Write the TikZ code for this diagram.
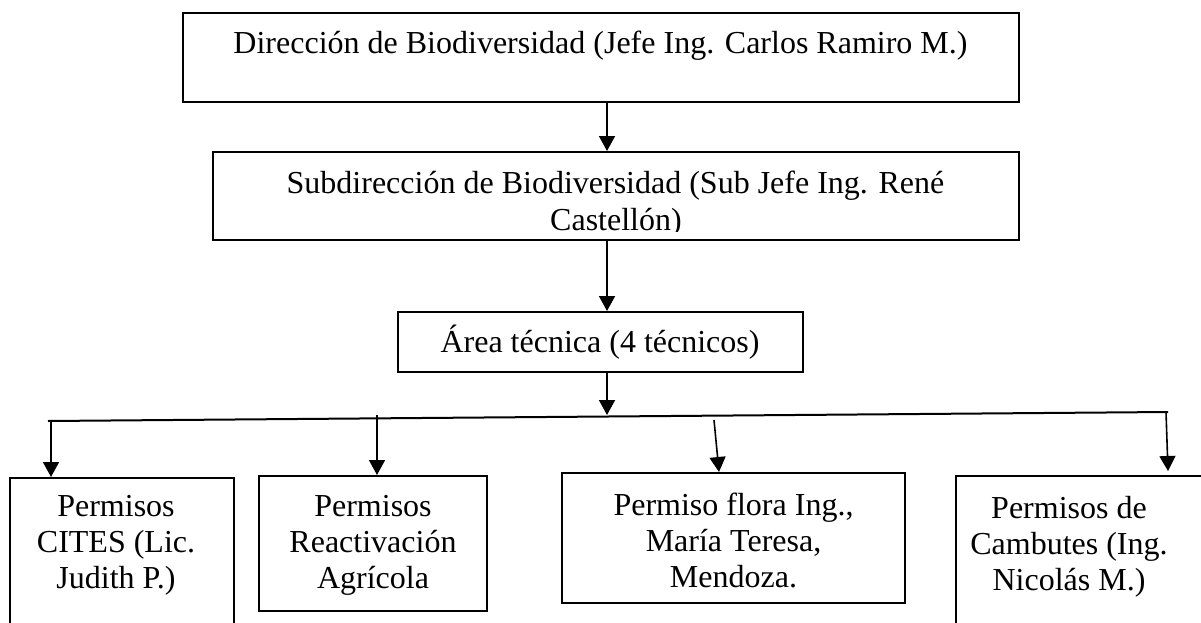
\documentclass[tikz,border=0pt]{standalone}
\usepackage{fontspec}
\setmainfont{Liberation Serif}
\usetikzlibrary{arrows.meta}

\begin{document}
\begin{tikzpicture}[x=1pt, y=-1pt,
	box/.style = {draw, line width=2pt, inner sep=0pt},
	txt/.style = {inner sep=0pt, align=center, anchor=base, font=\fontsize{32}{36}\selectfont},
	arr/.style = {-{Triangle[length=15pt, width=16pt]}, line width=1.6pt}]
	\clip (0,0) rectangle (1201,623);
	% boxes
	\node[box, minimum width=836pt, minimum height=89pt] (dir) at (601,57.5) {};
	\node[box, minimum width=806pt, minimum height=88pt] (sub) at (616,196) {};
	\node[box, minimum width=405pt, minimum height=60pt] (area) at (600.5,342) {};
	\node[box, minimum width=224pt, minimum height=182pt] (cites) at (122,569) {};
	\node[box, minimum width=228pt, minimum height=135pt] (agro) at (373,543.5) {};
	\node[box, minimum width=343pt, minimum height=130pt] (flora) at (733.5,538) {};
	\node[box, minimum width=274pt, minimum height=184pt] (camb) at (1093,568) {};
	% texts (base = last line)
	\node[txt] (dirT) at (600.5,54) {Dirección de Biodiversidad (Jefe Ing. Carlos Ramiro M.)};
	\node[txt] (subT) at (615.5,193) {Subdirección de Biodiversidad (Sub Jefe Ing. René};
	\begin{scope}
		\clip (213,152) rectangle (1019,231);
		\node[txt] (subT2) at (616,230) {Castellón)};
	\end{scope}
	\node[txt] (areaT) at (600,352) {Área técnica (4 técnicos)};
	\node[txt] (citesT) at (116,588) {Permisos\\CITES (Lic.\\Judith P.)};
	\node[txt] (agroT) at (373,588) {Permisos\\Reactivación\\Agrícola};
	\node[txt] (floraT) at (733.5,587) {Permiso flora Ing.,\\María Teresa,\\Mendoza.};
	\node[txt] (cambT) at (1069,590) {Permisos de\\Cambutes (Ing.\\Nicolás M.)};
	% bus
	\coordinate (busL) at (48,421);
	\coordinate (busR) at (1168,412);
	\coordinate (t1) at (51,421);
	\coordinate (t2) at (377,415);
	\coordinate (t3) at (714,420);
	\coordinate (t4) at (1166,412);
	\draw[line width=2pt] (busL) -- (busR);
	% arrows
	\draw[arr] ([xshift=6pt]dir.south) -- ([xshift=-9pt]sub.north);
	\draw[arr] ([xshift=-9pt]sub.south) -- ([xshift=6.5pt]area.north);
	\draw[arr] ([xshift=6.5pt]area.south) -- (607,415);
	\draw[arr] (t1) -- (t1 |- cites.north);
	\draw[arr] (t2) -- (t2 |- agro.north);
	\draw[arr] (t3) -- ([xshift=-14.5pt]flora.north);
	\draw[arr] (t4) -- (1168,471);
\end{tikzpicture}
\end{document}
